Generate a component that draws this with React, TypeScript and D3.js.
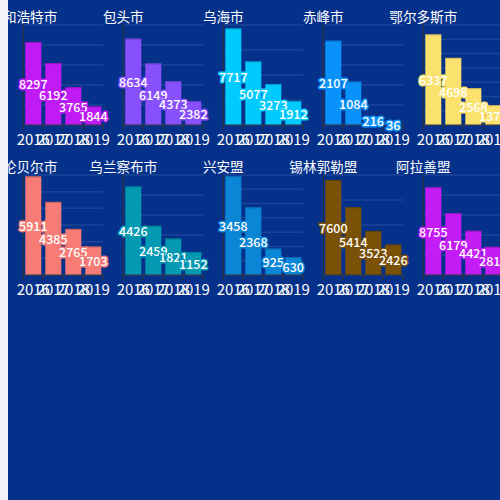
import React from 'react'
import * as d3 from 'd3'

const years = ['2016', '2017', '2018', '2019']
const cities = ['呼和浩特市', '包头市', '乌海市', '赤峰市', '鄂尔多斯市', '呼伦贝尔市', '乌兰察布市', '兴安盟', '锡林郭勒盟', '阿拉善盟']
const huhehaote = [8297, 6192, 3765, 1844]
const baotou = [8634, 6149, 4373, 2382]
const wuhai = [7717, 5077, 3273, 1912]
const chifeng = [2107, 1084, 216, 36]
const eerduosi = [6337, 4698, 2568, 1376]
const hulunbeier = [5911, 4385, 2765, 1703]
const wulanchabu = [4426, 2459, 1821, 1152]
const xinganmeng = [3458, 2368, 925, 630]
const xilinguole = [7600, 5414, 3523, 2426]
const alashan = [8755, 6179, 4421, 2815]
const seriesValues = [huhehaote, baotou, wuhai, chifeng, eerduosi, hulunbeier, wulanchabu, xinganmeng, xilinguole, alashan]
const barColors = ['#c01af5', '#884ffd', '#00cbff', '#0a92fb', '#fbe26f', '#f67c75', '#0399b2', '#0b85d6', '#7a5107', '#c41cf4']

const W = 500
const H = 500
const BG = '#05318a'
const FONT = '"Noto Sans CJK SC", "Noto Sans", sans-serif'

// one small bar chart
const SmallBar = ({ name, values, color, x0, y0 }: { name: string; values: number[]; color: string; x0: number; y0: number }) => {
  const gw = 80
  const gh = 100
  const x = d3.scaleBand().domain(years).range([0, gw]).paddingInner(0.2).paddingOuter(0.1)
  const y = d3.scaleLinear().domain([0, d3.max(values) ?? 0]).range([gh, 0]).nice(5)
  const ticks = y.ticks(5)
  const edge = d3.color(color)!.darker(0.6).formatHex()
  const step = x.step()
  return (
    <g transform={`translate(${x0}, ${y0})`}>
      <text x={0} y={-9} textAnchor="middle" dominantBaseline="central" fill="#fff" fontSize={13.6} fontFamily={FONT}>{name}</text>
      {ticks.map((t) => (
        <line key={t} x1={0} x2={gw} y1={y(t)} y2={y(t)} stroke="#1a4495" strokeWidth={1.5} />
      ))}
      {values.map((v, i) => (
        <g key={i}>
          <rect x={x(years[i])} y={y(v)} width={x.bandwidth()} height={gh - y(v)} fill={color} />
          <line x1={x(years[i])} x2={x(years[i])! + x.bandwidth()} y1={y(v) + 0.5} y2={y(v) + 0.5} stroke={edge} strokeWidth={1} />
        </g>
      ))}
      <line x1={0} x2={0} y1={0} y2={gh} stroke="#333" strokeWidth={1} />
      <line x1={0} x2={gw} y1={gh} y2={gh} stroke="#333" strokeWidth={1} />
      {d3.range(years.length + 1).map((i) => (
        <line key={i} x1={i * step} x2={i * step} y1={gh} y2={gh + 5} stroke="#333" strokeWidth={1} />
      ))}
      {years.map((yr) => (
        <text key={yr} x={x(yr)! + x.bandwidth() / 2} y={gh + 13} textAnchor="middle" dominantBaseline="central" fill="#fff" fontSize={15} fontFamily={FONT}>{yr}</text>
      ))}
      {values.map((v, i) => (
        <text key={i} x={x(years[i])! + x.bandwidth() / 2} y={(y(v) + gh) / 2} textAnchor="middle" dominantBaseline="central"
          fill="#fff" stroke={color} strokeWidth={3} paintOrder="stroke" strokeLinejoin="round" fontSize={12.5} fontWeight={500} fontFamily={FONT}>{v}</text>
      ))}
    </g>
  )
}

export default function App() {
  return (
    <div style={{ position: 'fixed', left: 0, top: 0, width: W, height: H }}>
      <svg width={W} height={H} style={{ display: 'block' }}>
        <rect x={0} y={0} width={W} height={H} fill={BG} />
        {cities.map((c, i) => (
          <SmallBar key={c} name={c} values={seriesValues[i]} color={barColors[i]}
            x0={23.3 + 100 * (i % 5)} y0={25 + 150 * Math.floor(i / 5)} />
        ))}
        <rect x={0} y={0} width={8} height={H} fill="#f2f3f8" />
      </svg>
    </div>
  )
}
